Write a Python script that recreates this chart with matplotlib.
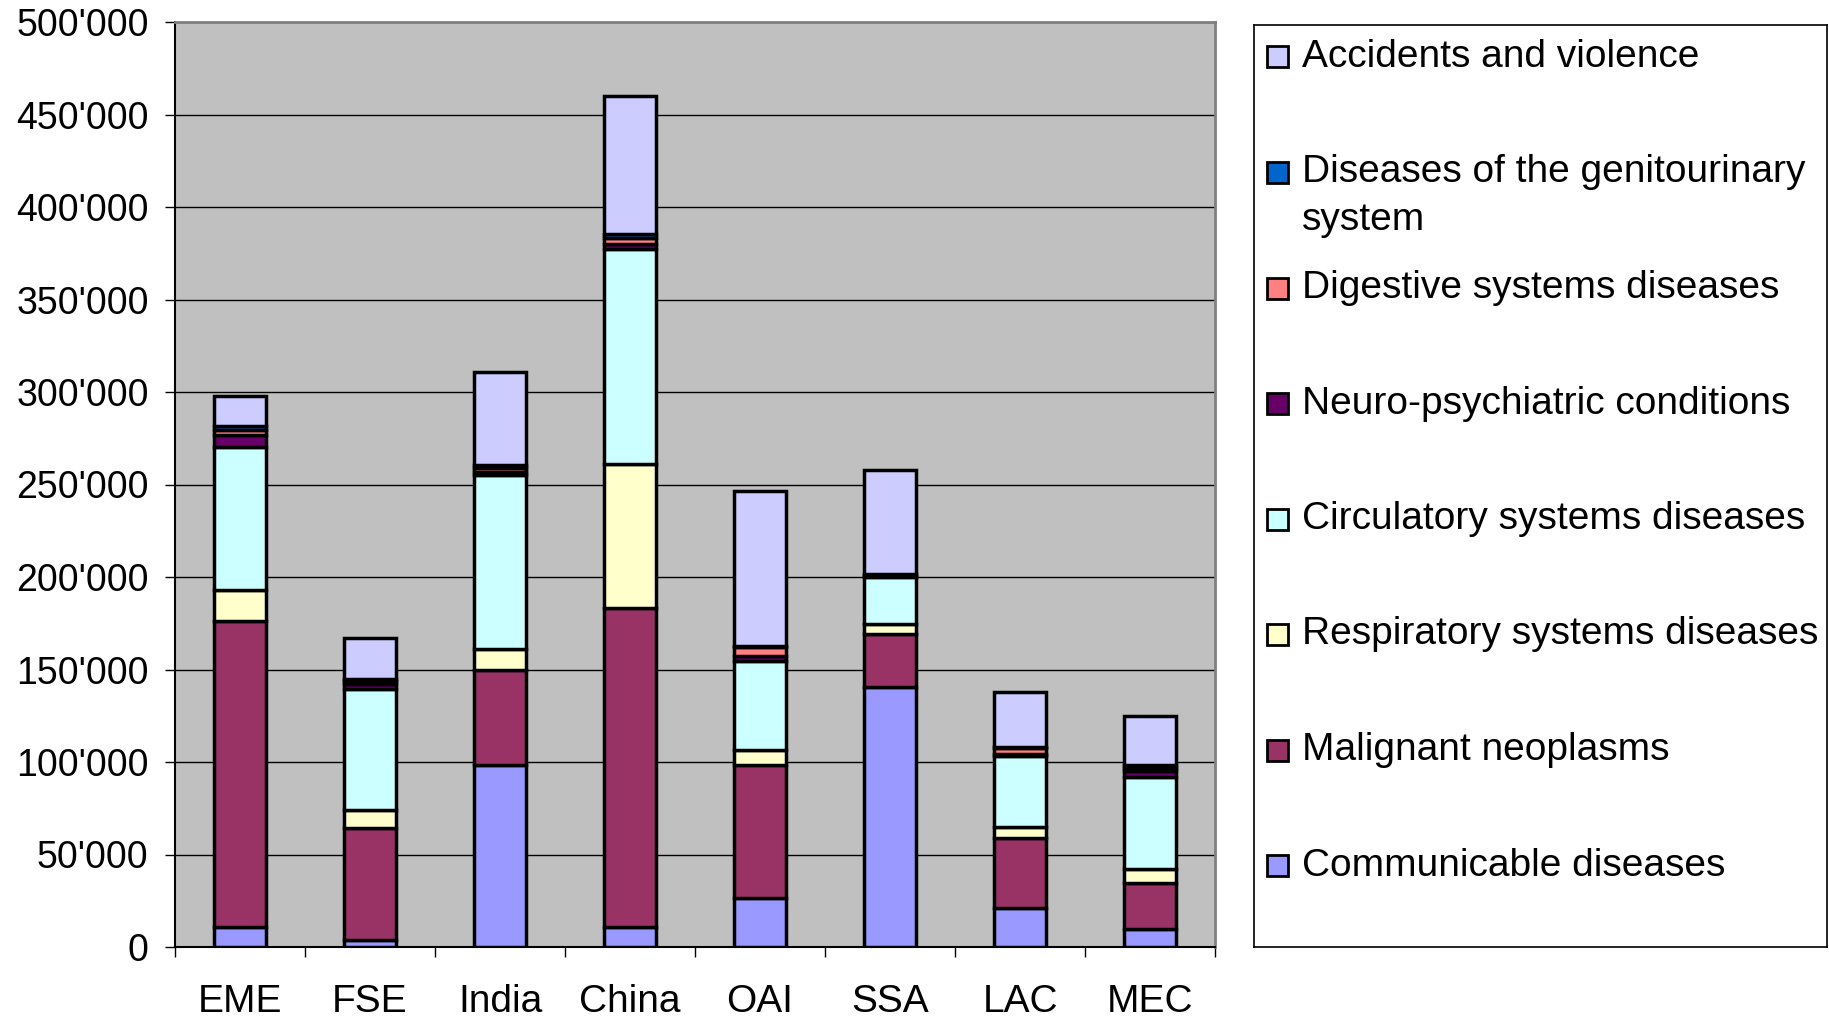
import numpy as np
import matplotlib
matplotlib.use('Agg')
import matplotlib.pyplot as plt
from matplotlib.patches import Rectangle
from matplotlib.ticker import FuncFormatter, MultipleLocator

plt.rcParams['font.family'] = ['Liberation Sans', 'DejaVu Sans']

regions = ['EME', 'FSE', 'India', 'China', 'OAI', 'SSA', 'LAC', 'MEC']

# values (stack order bottom -> top)
communicable = [11000, 3800, 98400, 11000, 26500, 140700, 21000, 9600]
malignant = [165000, 60500, 51300, 172000, 72000, 28300, 38000, 25000]
respiratory = [17000, 9500, 11500, 78000, 8000, 5500, 6000, 7700]
circulatory = [77500, 65800, 93900, 116200, 48000, 25500, 38500, 49500]
neuro = [6000, 2500, 1500, 3000, 3000, 800, 1000, 3500]
digestive = [3000, 1500, 2500, 3000, 4500, 600, 3000, 1500]
genitourinary = [2000, 1000, 1500, 2000, 800, 400, 500, 1500]
accidents = [16500, 22500, 50000, 74600, 83900, 56200, 30000, 26700]

series = [communicable, malignant, respiratory, circulatory,
          neuro, digestive, genitourinary, accidents]
names = ['Communicable diseases', 'Malignant neoplasms',
         'Respiratory systems diseases', 'Circulatory systems diseases',
         'Neuro-psychiatric conditions', 'Digestive systems diseases',
         'Diseases of the genitourinary\nsystem', 'Accidents and violence']
colors = ['#9999FF', '#993366', '#FFFFCC', '#CCFFFF',
          '#660066', '#FF8080', '#0066CC', '#CCCCFF']

W, H = 1829, 1018
fig = plt.figure(figsize=(W / 100, H / 100), dpi=100)
fig.patch.set_facecolor('white')

# main plot area
ax = fig.add_axes([175 / W, 1 - 947 / H, (1215 - 175) / W, (947 - 22) / H])
ax.set_facecolor('#C0C0C0')

x = np.arange(len(regions))
bottom = np.zeros(len(regions))
for vals, color in zip(series, colors):
    ax.bar(x, vals, 0.4, bottom=bottom, color=color, edgecolor='black',
           linewidth=2.5, zorder=3)
    bottom += np.array(vals)

ax.set_xlim(-0.5, len(regions) - 0.5)
ax.set_ylim(0, 500000)
ax.yaxis.set_major_locator(MultipleLocator(50000))
ax.yaxis.set_major_formatter(FuncFormatter(lambda v, p: f"{int(v):,}".replace(',', "'")))
ax.yaxis.grid(True, color='black', linewidth=1.0, zorder=0)
ax.set_axisbelow(True)

ax.set_xticks(np.arange(-0.5, len(regions), 1))
ax.set_xticklabels([])
ax.set_xticks(x, minor=True)
ax.set_xticklabels(regions, minor=True)
ax.tick_params(axis='x', which='major', length=7, width=1, direction='out')
ax.tick_params(axis='x', which='minor', length=0, pad=27, labelsize=28)
ax.tick_params(axis='y', length=7, width=1, direction='out', pad=12, labelsize=27)

for side in ['top', 'right']:
    ax.spines[side].set_color('#808080')
    ax.spines[side].set_linewidth(2)
for side in ['left', 'bottom']:
    ax.spines[side].set_color('black')
    ax.spines[side].set_linewidth(1.5)

# legend box drawn by hand to follow the original spacing
lax = fig.add_axes([1254 / W, 1 - 947 / H, (1827 - 1254) / W, (947 - 25) / H])
lax.set_xlim(0, 573)
lax.set_ylim(922, 0)
lax.set_xticks([])
lax.set_yticks([])
for s in lax.spines.values():
    s.set_linewidth(1.2)
    s.set_color('black')

for i, (name, color) in enumerate(zip(names[::-1], colors[::-1])):
    yc = 32 + i * 115.5
    lax.add_patch(Rectangle((13, yc - 10.5), 21, 21, facecolor=color,
                            edgecolor='black', linewidth=2))
    for j, line in enumerate(name.split('\n')):
        lax.text(48, yc + j * 48, line, va='center', ha='left', fontsize=28)

fig.savefig('out.png', dpi=100)
